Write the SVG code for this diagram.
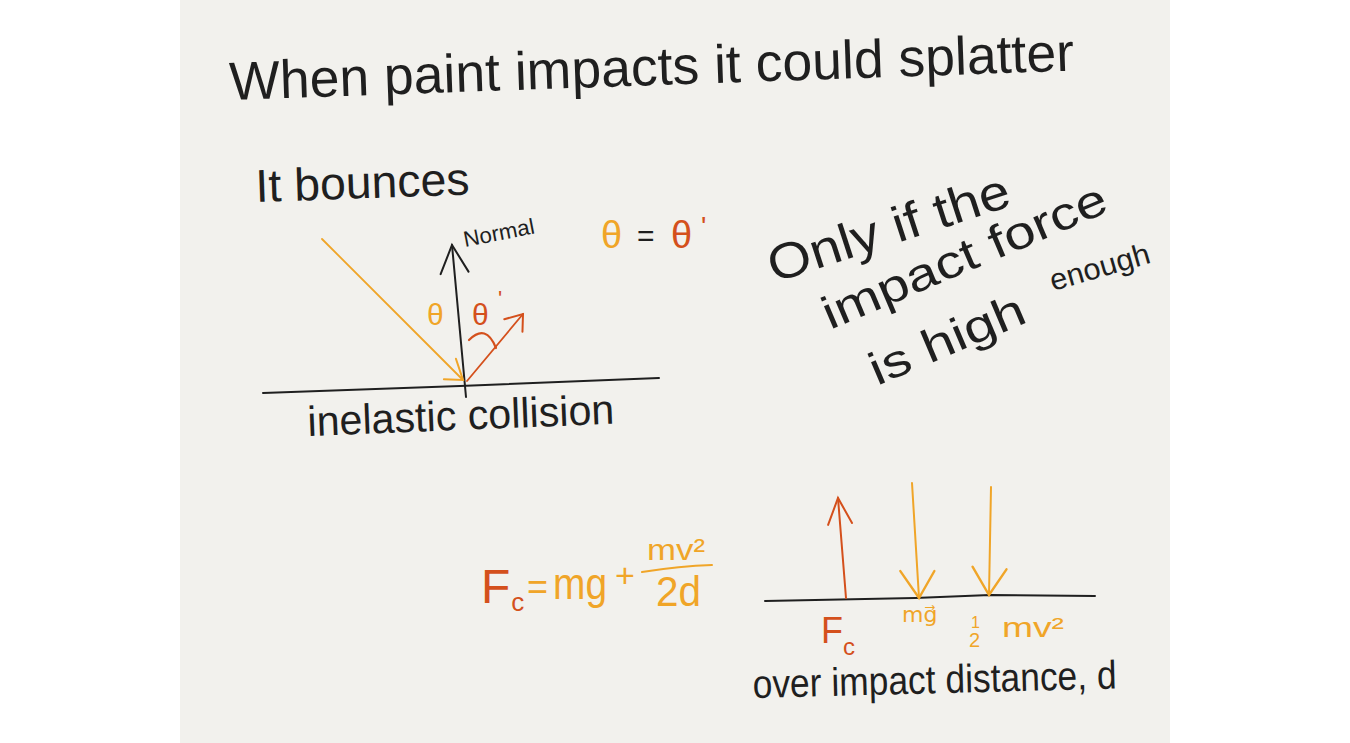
<svg xmlns="http://www.w3.org/2000/svg" width="1350" height="743" viewBox="0 0 1350 743">
<style>
.ink{fill:#1f1f1f;font-family:"Liberation Sans",Arial,sans-serif}
.or{fill:#f0a528;font-family:"Liberation Sans",Arial,sans-serif}
.rd{fill:#d4501c;font-family:"Liberation Sans",Arial,sans-serif}
.ln{fill:none;stroke-linecap:round;stroke-linejoin:round}
.k{stroke:#1f1f1f}
.o{stroke:#f0a528}
.r{stroke:#d4501c}
</style>
<defs>
<marker id="ah-k" markerUnits="userSpaceOnUse" markerWidth="40" markerHeight="40" refX="30" refY="20" orient="auto" viewBox="0 0 40 40"><path d="M2,6 L30,20 L2,34" fill="none" stroke="#1f1f1f" stroke-width="2" stroke-linecap="round"/></marker>
<marker id="ah-r" markerUnits="userSpaceOnUse" markerWidth="40" markerHeight="40" refX="30" refY="20" orient="auto" viewBox="0 0 40 40"><path d="M4,8 L30,20 L4,32" fill="none" stroke="#d4501c" stroke-width="2" stroke-linecap="round"/></marker>
<marker id="ah-rs" markerUnits="userSpaceOnUse" markerWidth="30" markerHeight="30" refX="22" refY="15" orient="auto" viewBox="0 0 30 30"><path d="M6,4 L22,15 L8,26" fill="none" stroke="#d4501c" stroke-width="2" stroke-linecap="round"/></marker>
<marker id="ah-o" markerUnits="userSpaceOnUse" markerWidth="40" markerHeight="50" refX="30" refY="25" orient="auto" viewBox="0 0 40 50"><path d="M4,8 L30,25 L2,42" fill="none" stroke="#f0a528" stroke-width="2.4" stroke-linecap="round"/></marker>
<marker id="ah-os" markerUnits="userSpaceOnUse" markerWidth="30" markerHeight="30" refX="24" refY="15" orient="auto" viewBox="0 0 30 30"><path d="M4,5 L24,15 L10,28" fill="none" stroke="#f0a528" stroke-width="2" stroke-linecap="round"/></marker>
</defs>
<rect x="0" y="0" width="1350" height="743" fill="#ffffff"/>
<rect x="180" y="0" width="990" height="743" fill="#f2f1ed"/>

<g id="title">
<text class="ink" x="230" y="100" font-size="54" textLength="845" lengthAdjust="spacingAndGlyphs" transform="rotate(-2 230 100)">When paint impacts it could splatter</text>
</g>

<g id="bounce-heading">
<text class="ink" x="256" y="202" font-size="46" textLength="214" lengthAdjust="spacingAndGlyphs" transform="rotate(-2 256 202)">It bounces</text>
</g>

<g id="connectors">
<path class="ln k" stroke-width="2" d="M263,393 L460,386 L659,378"/>
<path class="ln k" stroke-width="2" d="M466,397 L452,245" marker-end="url(#ah-k)"/>
<path class="ln o" stroke-width="1.8" d="M322,239 L463,380" marker-end="url(#ah-os)"/>
<path class="ln r" stroke-width="1.8" d="M467,381 L523,314" marker-end="url(#ah-rs)"/>
<path class="ln r" stroke-width="2.2" d="M469,340 Q486,323 496,348"/>
<path class="ln k" stroke-width="2" d="M765,601 L915,598 L990,595 L1095,596"/>
<path class="ln r" stroke-width="2" d="M846,598 L838,498" marker-end="url(#ah-r)"/>
<path class="ln o" stroke-width="2" d="M912,483 L919,598" marker-end="url(#ah-o)"/>
<path class="ln o" stroke-width="2" d="M991,487 L989,595" marker-end="url(#ah-o)"/>
<path class="ln o" stroke-width="2" d="M642,572 Q680,566 712,565"/>
</g>

<g id="normal-label">
<text class="ink" x="465" y="247" font-size="22" textLength="72" lengthAdjust="spacingAndGlyphs" transform="rotate(-11 465 247)">Normal</text>
</g>

<g id="angle-labels">
<text class="or" x="427" y="325" font-size="30">θ</text>
<text class="rd" x="472" y="325" font-size="30">θ</text>
<text class="rd" x="498" y="306" font-size="22">'</text>
</g>

<g id="angle-equation">
<text class="or" x="601" y="248" font-size="38">θ</text>
<text class="ink" x="637" y="246" font-size="30">=</text>
<text class="rd" x="671" y="248" font-size="38">θ</text>
<text class="rd" x="701" y="236" font-size="28">'</text>
</g>

<g id="inelastic-label">
<text class="ink" x="308" y="436" font-size="42" textLength="307" lengthAdjust="spacingAndGlyphs" transform="rotate(-2.3 308 436)">inelastic collision</text>
</g>

<g id="condition-note">
<text class="ink" x="774" y="283" font-size="50" textLength="252" lengthAdjust="spacingAndGlyphs" transform="rotate(-18 774 283)">Only if the</text>
<text class="ink" x="830" y="330" font-size="46" textLength="305" lengthAdjust="spacingAndGlyphs" transform="rotate(-23 830 330)">impact force</text>
<text class="ink" x="877" y="386" font-size="46" textLength="165" lengthAdjust="spacingAndGlyphs" transform="rotate(-23 877 386)">is high</text>
<text class="ink" x="1053" y="291" font-size="30" textLength="103" lengthAdjust="spacingAndGlyphs" transform="rotate(-16 1053 291)">enough</text>
</g>

<g id="force-equation">
<text class="rd" x="481" y="603" font-size="48">F<tspan font-size="26" dy="8" dx="1">c</tspan></text>
<text class="or" x="527" y="599" font-size="36">=</text>
<text class="or" x="553" y="599" font-size="44" textLength="54" lengthAdjust="spacingAndGlyphs">mg</text>
<text class="or" x="615" y="587" font-size="34">+</text>
<text class="or" x="647" y="560" font-size="30" textLength="58" lengthAdjust="spacingAndGlyphs">mv²</text>
<text class="or" x="656" y="606" font-size="42" textLength="45" lengthAdjust="spacingAndGlyphs">2d</text>
</g>

<g id="force-labels">
<text class="rd" x="821" y="643" font-size="36">F<tspan font-size="24" dy="12">c</tspan></text>
<text class="or" x="902" y="622" font-size="22" style="font-family:'DejaVu Sans',sans-serif">mg⃗</text>
<text class="or" x="971" y="628" font-size="16">1</text>
<text class="or" x="969" y="647" font-size="20">2</text>
<text class="or" x="1002" y="637" font-size="28" textLength="62" lengthAdjust="spacingAndGlyphs">mv²</text>
</g>

<g id="distance-label">
<text class="ink" x="753" y="698" font-size="40" textLength="364" lengthAdjust="spacingAndGlyphs" transform="rotate(-1.5 753 698)">over impact distance, d</text>
</g>
</svg>
